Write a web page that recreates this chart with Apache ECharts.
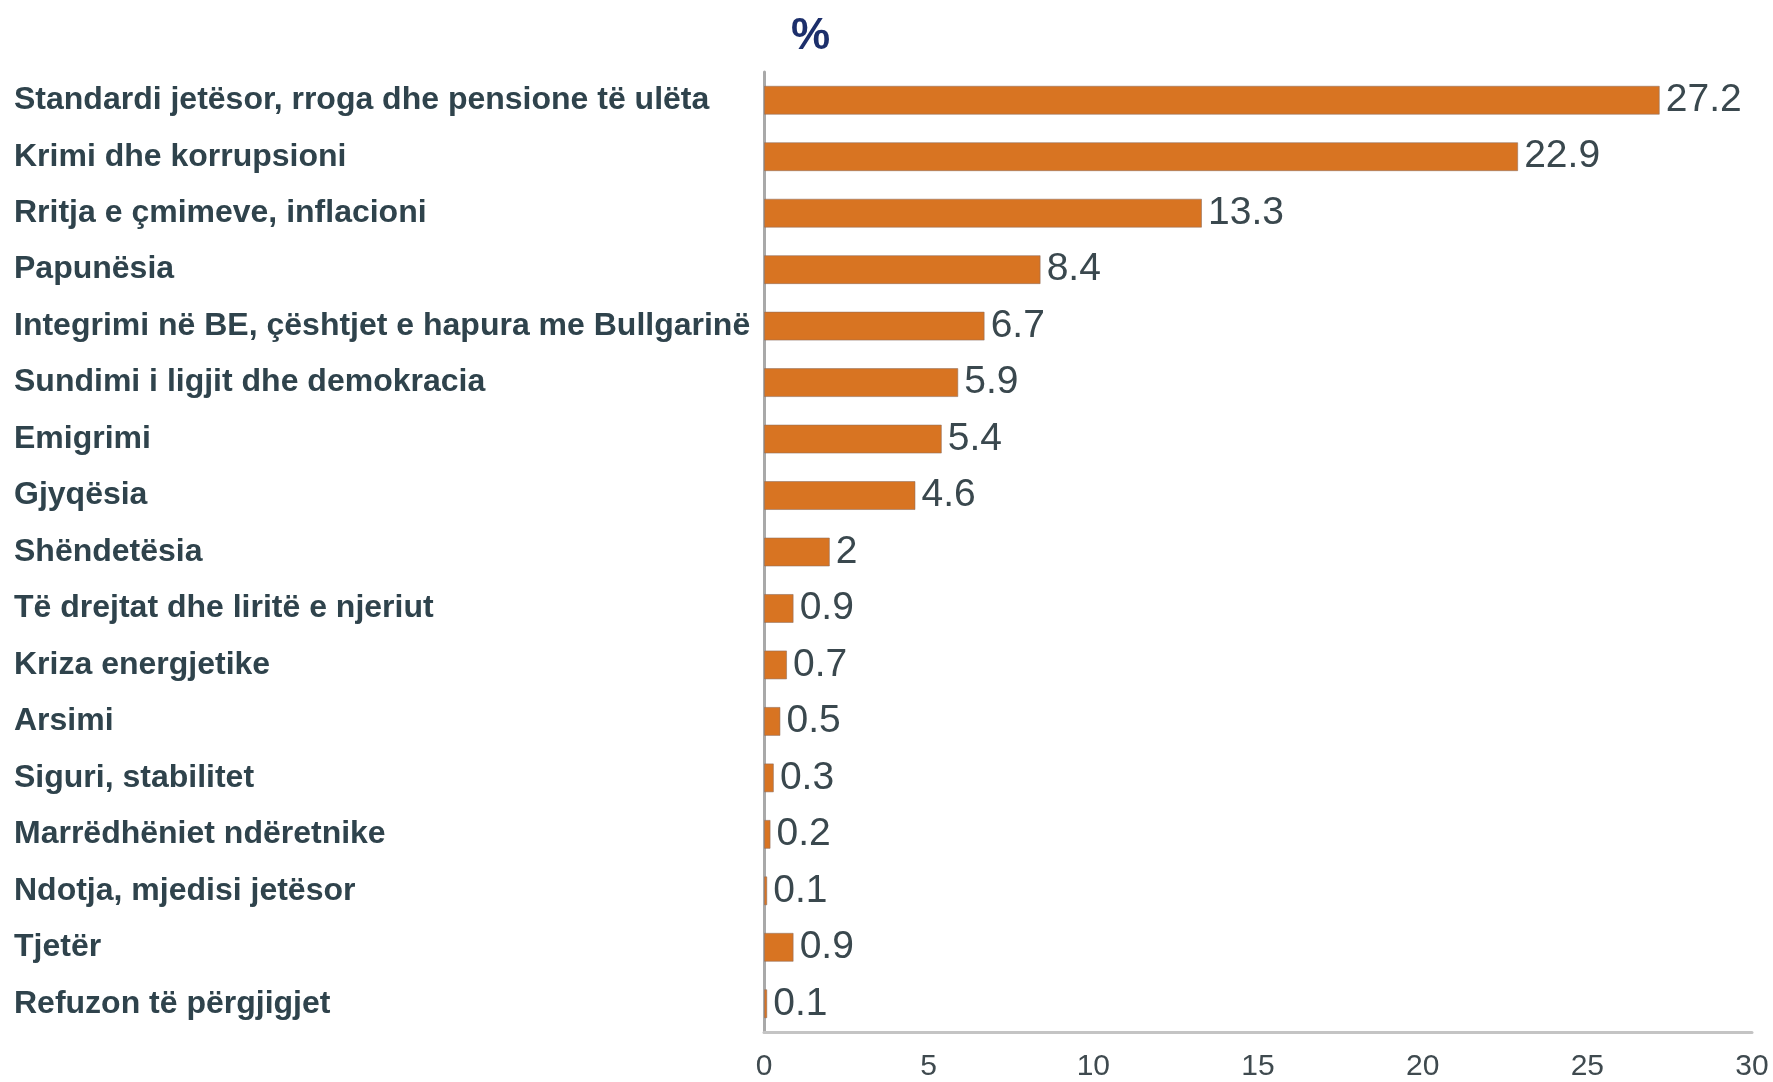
<!DOCTYPE html>
<html>
<head>
<meta charset="utf-8">
<script src="https://cdn.jsdelivr.net/npm/echarts@6/dist/echarts.min.js"></script>
<style>
html,body{margin:0;padding:0;background:#fff;}
#c{width:1773px;height:1082px;}
</style>
</head>
<body>
<div id="c"></div>
<script>
const categories = [
  "Standardi jetësor, rroga dhe pensione të ulëta",
  "Krimi dhe korrupsioni",
  "Rritja e çmimeve, inflacioni",
  "Papunësia",
  "Integrimi në BE, çështjet e hapura me Bullgarinë",
  "Sundimi i ligjit dhe demokracia",
  "Emigrimi",
  "Gjyqësia",
  "Shëndetësia",
  "Të drejtat dhe liritë e njeriut",
  "Kriza energjetike",
  "Arsimi",
  "Siguri, stabilitet",
  "Marrëdhëniet ndëretnike",
  "Ndotja, mjedisi jetësor",
  "Tjetër",
  "Refuzon të përgjigjet"
];
const values = [27.2, 22.9, 13.3, 8.4, 6.7, 5.9, 5.4, 4.6, 2, 0.9, 0.7, 0.5, 0.3, 0.2, 0.1, 0.9, 0.1];
const xTicks = [0, 5, 10, 15, 20, 25, 30];
const titleText = "%";

const chart = echarts.init(document.getElementById('c'), null, {renderer: 'canvas'});
chart.setOption({
  animation: false,
  backgroundColor: '#ffffff',
  title: {
    text: titleText,
    left: 786,
    top: 10,
    textStyle: {fontFamily: 'Liberation Sans', fontWeight: 'bold', fontSize: 44, color: '#1c2f6b'}
  },
  grid: {left: 764, right: 21, top: 72, bottom: 47, containLabel: false},
  xAxis: {
    type: 'value',
    min: xTicks[0],
    max: xTicks[xTicks.length - 1],
    interval: 5,
    axisLine: {show: true, lineStyle: {color: '#c4c4c4', width: 3}},
    axisTick: {show: false},
    splitLine: {show: false},
    axisLabel: {
      margin: 20,
      fontFamily: 'Liberation Sans',
      fontSize: 30,
      color: '#3f4a4f'
    }
  },
  yAxis: {
    type: 'category',
    data: categories,
    inverse: true,
    axisLine: {show: true, lineStyle: {color: '#a9a9a9', width: 3}},
    axisTick: {show: false},
    axisLabel: {
      align: 'left',
      margin: 750,
      fontFamily: 'Liberation Sans',
      fontWeight: 'bold',
      fontSize: 32,
      color: '#2f434c'
    }
  },
  series: [{
    type: 'bar',
    data: values,
    barWidth: 29,
    itemStyle: {color: '#d87422', borderColor: 'rgba(140,110,95,0.55)', borderWidth: 1},
    label: {
      show: true,
      position: 'right',
      distance: 6,
      fontFamily: 'Liberation Sans',
      fontSize: 39,
      color: '#3a484e'
    }
  }]
});
</script>
</body>
</html>
